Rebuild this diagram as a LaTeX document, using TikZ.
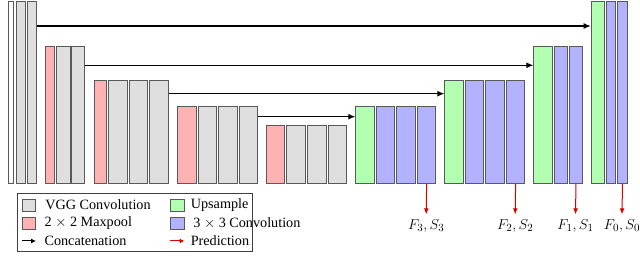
\documentclass[tikz,border=0pt]{standalone}
\usepackage{amsmath,amssymb}
\usepackage{fontspec}
\setmainfont{Liberation Serif}
\usepackage{tikz}
\usetikzlibrary{arrows.meta,positioning}

\begin{document}
\begin{tikzpicture}[
  x=1pt, y=1pt,
  layer/.style={draw=black!65, line width=0.9pt, inner sep=0pt, anchor=south west},
  inp/.style={layer, fill=white},
  vgg/.style={layer, fill=gray!25},
  pool/.style={layer, fill=red!30},
  ups/.style={layer, fill=green!30},
  conv/.style={layer, fill=blue!30},
  concat/.style={-{Latex[length=7pt,width=6pt]}, line width=1.1pt, black},
  pred/.style={-{Latex[length=6pt,width=5pt]}, line width=1pt, red!85!black},
  lbl/.style={font=\fontsize{15.5}{17}\selectfont, inner sep=3pt, anchor=north},
  txt/.style={font=\fontsize{14.2}{16}\selectfont, inner sep=0pt, anchor=west}
]
  \useasboundingbox (0,-86) rectangle (640,184);

  % contraction part
  \foreach \n/\s/\x/\w/\h in {
      in0/inp/8.3/5/182.3, e0a/vgg/15.5/9.5/182.3, e0b/vgg/27.3/8.7/182.3,
      p1/pool/45/9.3/137, e1a/vgg/56.3/13.4/137, e1b/vgg/71.3/13/137,
      p2/pool/93.7/12.6/102.7, e2a/vgg/108.3/18.4/102.7, e2b/vgg/129/18.3/102.7, e2c/vgg/149.3/18.4/102.7,
      p3/pool/177/18.7/77, e3a/vgg/197.7/18/77, e3b/vgg/218/18.7/77, e3c/vgg/239/18.3/77,
      p4/pool/266.3/18/58, e4a/vgg/286.3/19/58, e4b/vgg/307/19/58, e4c/vgg/328/18.3/58}
    \node[\s, minimum width=\w, minimum height=\h] (\n) at (\x,0) {};

  % expansion part
  \foreach \n/\s/\x/\w/\h in {
      u3/ups/355.3/18.4/77, d3a/conv/375.7/18.6/77, d3b/conv/396.3/18.4/77, d3c/conv/417/18.3/77,
      u2/ups/444.3/18.4/102.7, d2a/conv/465/18.3/102.7, d2b/conv/485.3/18.4/102.7, d2c/conv/506/18.3/102.7,
      u1/ups/533.3/18.4/137, d1a/conv/553.7/13/137, d1b/conv/569/13/137,
      u0/ups/590.7/13/182.3, d0a/conv/606/9/182.3, d0b/conv/617.3/9.4/182.3}
    \node[\s, minimum width=\w, minimum height=\h] (\n) at (\x,0) {};

  % skip connections
  \coordinate (k0) at (0,158);
  \coordinate (k1) at (0,118.7);
  \coordinate (k2) at (0,90.3);
  \coordinate (k3) at (0,67.3);
  \draw[concat] (e0b.east |- k0) -- (u0.west |- k0);
  \draw[concat] (e1b.east |- k1) -- (u1.west |- k1);
  \draw[concat] (e2c.east |- k2) -- (u2.west |- k2);
  \draw[concat] (e3c.east |- k3) -- (u3.west |- k3);

  % predictions
  \node[lbl] (o3) at (426.2,-32.3) {$F_3, S_3$};
  \node[lbl] (o2) at (515.2,-32.3) {$F_2, S_2$};
  \node[lbl] (o1) at (575.5,-32.3) {$F_1, S_1$};
  \node[lbl] (o0) at (622,-32.3) {$F_0, S_0$};
  \draw[pred, shorten >=2pt] (d3c.south) -- (o3.north);
  \draw[pred, shorten >=2pt] (d2c.south) -- (o2.north);
  \draw[pred, shorten >=2pt] (d1b.south) -- (o1.north);
  \draw[pred, shorten >=2pt] (d0b.south) -- (o0.north);

  % legend
  \node[draw=black!75, line width=0.8pt, minimum width=234.4, minimum height=57.7, anchor=north west, inner sep=0pt] (legend) at (17.3,-9.3) {};
  \node[vgg, anchor=center, minimum width=13.4, minimum height=12] (kv) at (29,-21) {};
  \node[pool, anchor=center, minimum width=13.4, minimum height=12] (kp) at (29,-39.3) {};
  \node[inner sep=0pt, minimum width=13.7, minimum height=12] (kc) at (29,-57) {};
  \node[ups, anchor=center, minimum width=13.4, minimum height=12] (ku) at (177.5,-21) {};
  \node[conv, anchor=center, minimum width=13.4, minimum height=12] (kk) at (177.5,-39.3) {};
  \node[inner sep=0pt, minimum width=13.7, minimum height=12] (kr) at (177.5,-57) {};
  \draw[concat, line width=1pt, -{Latex[length=5pt,width=5pt]}] (kc.west) -- (kc.east);
  \draw[pred, -{Latex[length=5pt,width=5pt]}] (kr.west) -- (kr.east);

  \node[txt, right=9pt of kv] (tv) {VGG Convolution};
  \node[txt, right=8.3pt of kp] (tp) {2 $\times$ 2 Maxpool};
  \node[txt, right=8.3pt of kc] (tc) {Concatenation};
  \node[txt, right=6pt of ku] (tu) {Upsample};
  \node[txt, right=8.5pt of kk] (tk) {3 $\times$ 3 Convolution};
  \node[txt, right=6pt of kr] (tr) {Prediction};
\end{tikzpicture}
\end{document}
